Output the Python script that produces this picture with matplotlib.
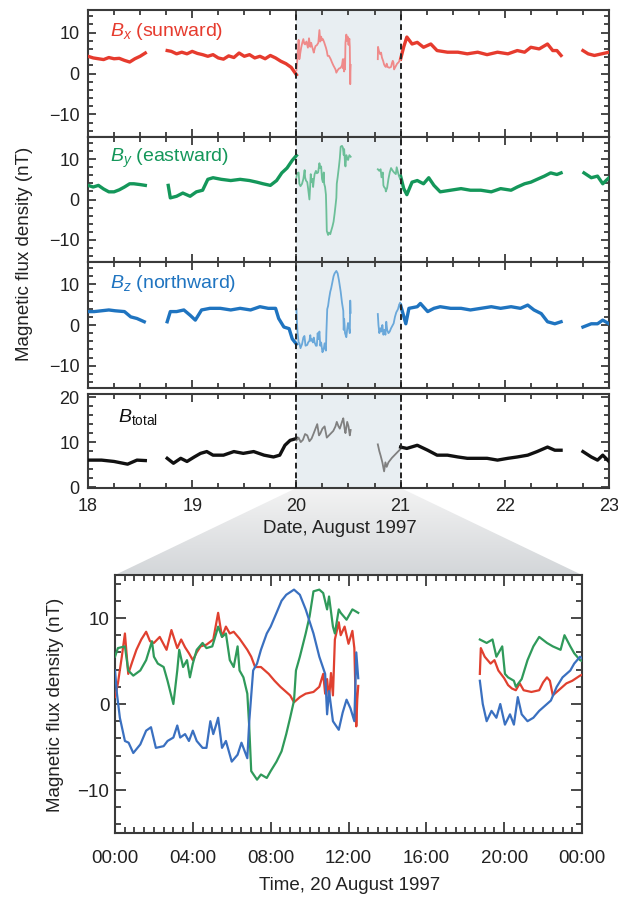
import numpy as np
import matplotlib
matplotlib.use("Agg")
import matplotlib.pyplot as plt
from matplotlib.patches import Polygon
from matplotlib.ticker import MultipleLocator, FixedLocator
from matplotlib.colors import LinearSegmentedColormap

nan = np.nan
plt.rcParams['font.family'] = ['Liberation Sans', 'DejaVu Sans']
plt.rcParams['mathtext.fontset'] = 'custom'
plt.rcParams['mathtext.rm'] = 'Liberation Sans'
plt.rcParams['mathtext.it'] = 'Liberation Sans:italic'

# ---------------- data: 18-23 August (days) ----------------
bx_pre_d = [18.00, 18.05, 18.10, 18.15, 18.20, 18.25, 18.30, 18.35, 18.40, 18.45, 18.50, 18.55, 18.65,
            18.76, 18.80, 18.85, 18.90, 18.95, 19.00, 19.05, 19.10, 19.15, 19.20, 19.25, 19.30, 19.35,
            19.40, 19.45, 19.50, 19.55, 19.60, 19.65, 19.70, 19.75, 19.80, 19.85, 19.90, 19.95, 20.00]
bx_pre_v = [4.2, 3.8, 3.6, 3.4, 3.9, 3.6, 3.7, 3.2, 2.8, 3.6, 4.2, 5.0, nan,
            5.6, 5.4, 4.8, 5.2, 4.8, 5.4, 4.9, 4.6, 4.2, 4.6, 3.8, 3.5, 4.3,
            3.9, 5.0, 4.2, 4.6, 3.8, 4.2, 3.6, 4.4, 3.8, 3.0, 2.4, 1.5, -0.3]
bx_post_d = [21.00, 21.03, 21.06, 21.11, 21.16, 21.22, 21.29, 21.35, 21.45, 21.55, 21.64, 21.74, 21.83,
             21.93, 22.03, 22.12, 22.19, 22.25, 22.33, 22.41, 22.46, 22.50, 22.54, 22.65,
             22.75, 22.80, 22.86, 22.93, 23.00]
bx_post_v = [3.5, 6.5, 8.9, 7.2, 7.6, 6.4, 7.2, 5.6, 5.2, 5.2, 4.8, 5.2, 4.6,
             5.2, 4.8, 5.6, 5.2, 6.4, 6.0, 7.2, 5.6, 5.6, 4.4, nan,
             5.6, 4.8, 4.4, 4.8, 5.2]

by_pre_d = [18.00, 18.05, 18.10, 18.15, 18.20, 18.25, 18.30, 18.35, 18.40, 18.44, 18.50, 18.55, 18.65,
            18.77, 18.79, 18.85, 18.91, 18.98, 19.04, 19.10, 19.15, 19.20, 19.28, 19.37, 19.46, 19.55,
            19.62, 19.68, 19.75, 19.81, 19.86, 19.91, 19.96, 20.00]
by_pre_v = [3.5, 3.1, 3.5, 2.6, 1.9, 1.9, 2.4, 3.1, 3.9, 3.9, 3.7, 3.5, nan,
            3.5, 0.4, 0.8, 1.6, 0.8, 1.9, 2.3, 5.0, 5.4, 5.0, 4.7, 5.0, 4.7,
            4.3, 3.9, 3.5, 4.7, 6.6, 7.8, 9.7, 10.9]
by_post_d = [21.00, 21.03, 21.06, 21.11, 21.16, 21.22, 21.27, 21.32, 21.38, 21.48, 21.58, 21.67, 21.77,
             21.87, 21.96, 22.06, 22.12, 22.19, 22.25, 22.31, 22.38, 22.44, 22.50, 22.54, 22.65,
             22.76, 22.83, 22.89, 22.94, 23.00]
by_post_v = [5.8, 2.7, 1.2, 4.3, 4.7, 3.9, 5.4, 3.5, 1.9, 2.3, 2.7, 2.3, 2.3,
             1.9, 2.7, 2.3, 3.1, 3.9, 4.3, 5.0, 5.8, 6.6, 6.2, 6.6, nan,
             6.6, 5.4, 5.8, 3.9, 5.4]

bz_pre_d = [18.00, 18.06, 18.13, 18.20, 18.26, 18.35, 18.41, 18.47, 18.54, 18.65,
            18.76, 18.79, 18.85, 18.92, 18.98, 19.03, 19.09, 19.17, 19.27, 19.37, 19.46, 19.56,
            19.65, 19.73, 19.80, 19.83, 19.88, 19.93, 19.96, 20.00]
bz_pre_v = [3.3, 3.3, 3.5, 3.7, 3.5, 3.3, 2.0, 1.6, 0.8, nan,
            0.8, 3.3, 3.3, 3.7, 2.4, 1.2, 3.7, 4.1, 4.1, 3.7, 4.1, 3.7,
            4.5, 4.1, 4.1, 1.6, -0.5, -0.9, -3.4, -4.7]
bz_post_d = [21.00, 21.05, 21.08, 21.16, 21.19, 21.26, 21.32, 21.38, 21.48, 21.58, 21.67, 21.77, 21.87,
             21.96, 22.06, 22.15, 22.22, 22.28, 22.35, 22.41, 22.48, 22.54, 22.65,
             22.75, 22.83, 22.89, 22.94, 23.00]
bz_post_v = [4.9, 0.3, 4.1, 4.5, 5.3, 3.3, 4.1, 4.5, 4.1, 4.1, 3.7, 4.1, 4.5,
             4.1, 4.5, 4.1, 4.9, 3.7, 2.8, 0.8, 0.3, 0.8, nan,
             -0.5, 0.3, 0.3, 1.2, 0.3]

bt_pre_d = [18.00, 18.13, 18.25, 18.38, 18.47, 18.55, 18.65,
            18.76, 18.82, 18.89, 18.95, 19.02, 19.08, 19.14, 19.20, 19.30, 19.40, 19.49, 19.59,
            19.69, 19.78, 19.84, 19.89, 19.94, 20.00]
bt_pre_v = [6.0, 6.0, 5.7, 5.1, 6.0, 5.9, nan,
            6.4, 5.3, 6.4, 5.7, 6.7, 7.5, 7.9, 7.1, 7.1, 7.9, 7.5, 7.9,
            7.1, 6.7, 7.1, 9.3, 10.4, 10.8]
bt_post_d = [21.00, 21.06, 21.16, 21.26, 21.35, 21.45, 21.55, 21.64, 21.74, 21.83, 21.93, 22.03,
             22.12, 22.22, 22.31, 22.41, 22.48, 22.54, 22.65, 22.75, 22.83, 22.89, 22.94, 23.00]
bt_post_v = [8.9, 8.6, 9.3, 8.2, 7.1, 7.1, 6.7, 6.4, 6.4, 6.4, 6.0, 6.4,
             6.7, 7.1, 7.9, 8.9, 8.2, 8.2, nan, 7.9, 6.7, 6.0, 7.1, 5.7]

# ---------------- data: 20 August (hours) ----------------
bx20_h = [0.0, 0.15, 0.35, 0.51, 0.68, 0.9, 1.1, 1.35, 1.6, 1.8, 2.0, 2.3, 2.65, 2.9, 3.2, 3.4, 3.6, 3.8,
          4.0, 4.2, 4.4, 4.7, 5.05, 5.3, 5.5, 5.7, 5.9, 6.1, 6.4, 6.8, 7.0, 7.2, 7.5, 7.9, 8.2, 8.5,
          8.8, 9.0, 9.2, 9.5, 9.8, 10.2, 10.5, 10.7, 10.8, 10.9, 11.0, 11.1, 11.2, 11.3, 11.5, 11.6,
          11.8, 12.0, 12.2, 12.3, 12.4, 12.45, 12.5, 15.0,
          18.75, 18.8, 19.0, 19.3, 19.5, 19.7, 20.0, 20.2, 20.4, 20.6, 20.8, 21.0, 21.4, 21.8, 22.0,
          22.2, 22.35, 22.5, 22.8, 23.2, 23.5, 23.9, 24.0]
bx20_v = [0.8, 2.4, 5.5, 8.2, 3.5, 5.0, 6.3, 7.5, 8.4, 7.3, 7.1, 7.8, 6.3, 8.6, 6.5, 7.5, 6.6, 5.9,
          5.1, 6.0, 6.7, 6.9, 7.5, 10.6, 7.8, 9.0, 8.2, 8.4, 7.6, 6.3, 5.5, 4.3, 4.3, 3.5, 2.7, 2.0,
          1.4, 1.0, 0.2, 0.8, 1.2, 1.4, 2.0, 3.5, 1.2, 2.9, 0.5, 3.6, 1.0, 7.5, 9.5, 8.0,
          9.0, 7.0, 8.5, 6.5, -2.6, 0.5, 2.1, nan,
          3.5, 6.5, 5.5, 4.7, 5.1, 3.9, 3.0, 2.2, 1.8, 1.6, 2.4, 1.6, 1.4, 1.6, 2.5,
          3.1, 2.7, 1.0, 1.6, 2.4, 2.7, 3.3, 3.4]

by20_h = [0.0, 0.15, 0.51, 0.68, 0.94, 1.3, 1.6, 1.9, 2.0, 2.2, 2.5, 2.7, 3.0, 3.2, 3.3, 3.5, 3.7, 3.85,
          4.0, 4.2, 4.5, 4.7, 5.0, 5.2, 5.3, 5.5, 5.7, 5.9, 6.1, 6.3, 6.4, 6.6, 6.8, 6.9, 7.0, 7.3,
          7.5, 7.8, 8.0, 8.3, 8.56, 8.8, 9.0, 9.2, 9.3, 9.5, 9.8, 10.0, 10.2, 10.5, 10.7, 10.9, 11.0,
          11.2, 11.3, 11.5, 11.6, 11.9, 12.2, 12.5, 15.0,
          18.75, 19.1, 19.4, 19.6, 19.9, 20.04, 20.2, 20.5, 20.6, 20.9, 21.2, 21.5, 21.8, 22.2,
          22.5, 22.9, 23.1, 23.4, 23.6, 23.9, 24.0]
by20_v = [5.5, 6.5, 6.7, 3.9, 3.3, 3.9, 5.1, 7.3, 5.5, 4.7, 4.3, 2.7, 0.0, 3.9, 6.3, 4.3, 5.1, 3.1,
          4.7, 6.3, 7.1, 6.5, 6.7, 8.2, 9.0, 7.8, 8.2, 5.1, 4.3, 6.7, 3.9, 3.1, 1.2, -2.7, -7.8, -8.8,
          -8.2, -8.6, -7.8, -6.7, -5.5, -3.5, -1.6, 0.4, 3.9, 5.5, 8.2, 10.2, 13.1, 13.3, 12.9, 11.0, 12.5,
          9.0, 8.2, 11.0, 10.6, 9.8, 11.0, 10.6, nan,
          7.5, 7.1, 7.5, 5.5, 6.7, 3.5, 3.1, 2.7, 2.0, 2.9, 5.1, 6.7, 7.8, 7.1,
          6.7, 6.3, 8.0, 6.7, 5.9, 5.1, 5.0]

bz20_h = [0.0, 0.1, 0.25, 0.51, 0.7, 0.94, 1.3, 1.6, 1.85, 2.1, 2.5, 2.7, 3.0, 3.2, 3.35, 3.6, 3.8,
          4.0, 4.2, 4.5, 4.7, 4.9, 5.05, 5.2, 5.3, 5.5, 5.7, 6.0, 6.3, 6.5, 6.8, 6.9, 7.1, 7.3, 7.5,
          7.8, 8.0, 8.3, 8.56, 8.8, 9.2, 9.5, 9.8, 10.2, 10.5, 10.8, 10.9, 11.0, 11.2, 11.5, 11.7,
          11.9, 12.1, 12.3, 12.4, 12.5, 15.0,
          18.75, 18.9, 19.1, 19.35, 19.6, 19.8, 20.04, 20.3, 20.5, 20.7, 20.9, 21.2, 21.5, 21.8,
          22.0, 22.4, 22.7, 23.0, 23.4, 23.6, 23.9, 24.0]
bz20_v = [3.9, 1.2, -1.6, -4.3, -4.5, -5.7, -4.7, -3.1, -2.7, -5.1, -4.9, -4.3, -3.9, -2.5, -3.9, -3.5, -4.3,
          -3.1, -4.3, -5.1, -5.1, -2.0, -3.5, -2.4, -1.6, -5.1, -4.3, -6.7, -5.9, -4.5, -6.3, -2.0, 3.9, 4.7, 6.3,
          8.2, 9.0, 10.6, 12.0, 12.7, 13.3, 12.7, 11.0, 8.2, 5.5, 3.5, -1.2, 1.5, -2.0, -3.0, -1.0,
          0.5, -0.5, -2.0, 6.0, 3.0, nan,
          2.7, 0.0, -2.0, -0.8, -1.6, 0.0, -2.4, -1.2, -2.4, 0.8, -1.2, -2.0, -1.6, -0.8,
          -0.4, 0.4, 2.0, 3.1, 3.9, 4.7, 5.5, 5.3]

bt20_h = [0.0, 0.5, 1.0, 1.5, 2.0, 2.5, 3.0, 3.5, 4.0, 4.8, 5.2, 5.5, 6.0, 6.5, 7.0, 7.5, 8.0, 8.5,
          9.0, 9.3, 9.7, 10.0, 10.5, 10.8, 11.1, 11.3, 11.7, 12.0, 12.3, 12.5, 15.0,
          18.75, 19.1, 19.4, 19.8, 20.2, 20.5, 20.8, 21.2, 21.6, 22.0, 22.5, 23.0, 23.5, 24.0]
bt20_v = [10.4, 11.0, 10.0, 10.5, 11.8, 11.5, 10.2, 10.8, 12.0, 14.0, 11.5, 11.9, 13.0, 13.5, 11.0, 11.5,
          12.0, 12.5, 13.5, 14.5, 13.5, 13.0, 14.5, 15.3, 13.0, 12.0, 14.5, 13.5, 11.5, 12.7, nan,
          9.5, 8.0, 7.0, 5.5, 3.5, 5.5, 4.5, 5.5, 6.0, 6.5, 7.0, 7.5, 8.0, 8.5]

day_ticks = [18, 19, 20, 21, 22, 23]
hour_ticks = [0, 4, 8, 12, 16, 20, 24]
hour_labels = ["00:00", "04:00", "08:00", "12:00", "16:00", "20:00", "00:00"]
panel_labels = [r"$B_x$ (sunward)", r"$B_y$ (eastward)", r"$B_z$ (northward)", r"$B_{\mathrm{total}}$"]

# ---------------- styling ----------------
W, H = 618, 897
fig = plt.figure(figsize=(W / 100, H / 100), dpi=100)
fig.patch.set_facecolor("white")

def pos(l, t, r, b):
    return [l / W, 1 - b / H, (r - l) / W, (b - t) / H]

col_main = ["#e63b2e", "#14975a", "#1f74c0", "#111111"]
col_light = ["#ef8a8a", "#6cbf98", "#6aa8da", "#808080"]
col_bot = ["#e0402f", "#2f9a5a", "#3a70c0"]
spine_c = "#3a3a3a"
tick_fs = 13

R = 609
top_pos = [(88, 10, R, 137), (88, 137, R, 262), (88, 262, R, 388), (88, 394, R, 488)]
ylims = [(-15.5, 15.5), (-15.5, 15.5), (-15.5, 15.5), (-0.2, 20.7)]
pre = [(bx_pre_d, bx_pre_v), (by_pre_d, by_pre_v), (bz_pre_d, bz_pre_v), (bt_pre_d, bt_pre_v)]
post = [(bx_post_d, bx_post_v), (by_post_d, by_post_v), (bz_post_d, bz_post_v), (bt_post_d, bt_post_v)]
mid = [(bx20_h, bx20_v), (by20_h, by20_v), (bz20_h, bz20_v), (bt20_h, bt20_v)]
label_xy = [(0.042, 0.83), (0.042, 0.83), (0.042, 0.83), (0.058, 0.76)]

def fmt(y, p):
    return ("\u2212%d" % abs(y)) if y < 0 else "%d" % y

def style_ax(ax):
    for s in ax.spines.values():
        s.set_color(spine_c)
        s.set_linewidth(1.5)
    ax.tick_params(which="both", direction="in", top=True, right=True, colors=spine_c,
                   labelcolor="#222222", labelsize=tick_fs, width=1.3)
    ax.tick_params(which="major", length=6)
    ax.tick_params(which="minor", length=3.5)

axes = []
for i in range(4):
    ax = fig.add_axes(pos(*top_pos[i]))
    axes.append(ax)
    ax.axvspan(20, 21, color="#e8eef2", zorder=0, lw=0)
    d, v = pre[i]
    ax.plot(d, v, color=col_main[i], lw=2.4, zorder=3, solid_joinstyle="round")
    d, v = post[i]
    ax.plot(d, v, color=col_main[i], lw=2.4, zorder=3, solid_joinstyle="round")
    hh, v = mid[i]
    ax.plot(20 + np.array(hh) / 24.0, v, color=col_light[i], lw=1.3, zorder=3)
    for xv in (20, 21):
        ax.axvline(xv, color="#222222", lw=1.4, ls=(0, (3, 2)), zorder=4)
    ax.set_xlim(18, 23)
    ax.set_ylim(*ylims[i])
    ax.xaxis.set_major_locator(FixedLocator(day_ticks))
    ax.xaxis.set_minor_locator(MultipleLocator(0.25))
    ax.yaxis.set_major_locator(MultipleLocator(10))
    ax.yaxis.set_minor_locator(MultipleLocator(2))
    style_ax(ax)
    ax.tick_params(axis="y", pad=6)
    ax.tick_params(axis="x", pad=7)
    ax.yaxis.set_major_formatter(matplotlib.ticker.FuncFormatter(fmt))
    if i < 3:
        ax.tick_params(labelbottom=False)
    lc = col_main[i] if i < 3 else "#111111"
    ax.text(label_xy[i][0], label_xy[i][1], panel_labels[i], transform=ax.transAxes,
            color=lc, fontsize=14, va="center", ha="left", zorder=5)

fig.text(25 / W, 1 - 254 / H, "Magnetic flux density (nT)", rotation=90, ha="center", va="center",
         fontsize=13.5, color="#222222")
fig.text(340 / W, 1 - 528 / H, "Date, August 1997", ha="center", va="center", fontsize=13.5, color="#222222")

# bottom panel
axb = fig.add_axes(pos(115, 575, 582, 833))
for i in range(3):
    hh, v = mid[i]
    axb.plot(hh, v, color=col_bot[i], lw=1.6, zorder=3)
axb.set_xlim(0, 24)
axb.set_ylim(-15, 15)
axb.xaxis.set_major_locator(FixedLocator(hour_ticks))
axb.set_xticklabels(hour_labels)
axb.xaxis.set_minor_locator(MultipleLocator(0.5))
axb.yaxis.set_major_locator(MultipleLocator(10))
axb.yaxis.set_minor_locator(MultipleLocator(2))
style_ax(axb)
axb.tick_params(labelsize=13.5)
axb.tick_params(which="major", length=8)
axb.tick_params(which="minor", length=4)
axb.tick_params(axis="x", pad=12)
axb.tick_params(axis="y", pad=4)
axb.yaxis.set_major_formatter(matplotlib.ticker.FuncFormatter(fmt))
fig.text(56 / W, 1 - 705 / H, "Magnetic flux density (nT)", rotation=90, ha="center", va="center",
         fontsize=13.5, color="#222222")
fig.text(350 / W, 1 - 885 / H, "Time, 20 August 1997", ha="center", va="center", fontsize=13.5,
         color="#222222")

# funnel connecting 20-21 Aug to the zoomed panel
ax4 = axes[3]
p_a = ax4.transData.transform((20, ylims[3][0]))
p_b = ax4.transData.transform((21, ylims[3][0]))
bb = axb.get_position().transformed(fig.transFigure)
pts = [p_a, p_b, (bb.x1, bb.y1), (bb.x0, bb.y1)]
bg = fig.add_axes([0, 0, 1, 1], zorder=-5)
bg.set_xlim(0, fig.bbox.width)
bg.set_ylim(0, fig.bbox.height)
bg.axis("off")
cmap = LinearSegmentedColormap.from_list("funnel", ["#d3d6d9", "#f3f3f3"])
grad = np.linspace(0, 1, 256).reshape(-1, 1)
im = bg.imshow(grad, extent=[0, fig.bbox.width, bb.y1, p_a[1]], origin="lower", cmap=cmap,
               aspect="auto")
poly = Polygon(pts, closed=True, transform=bg.transData, facecolor="none", edgecolor="none")
bg.add_patch(poly)
im.set_clip_path(poly)

fig.savefig("out.png", dpi=100)
